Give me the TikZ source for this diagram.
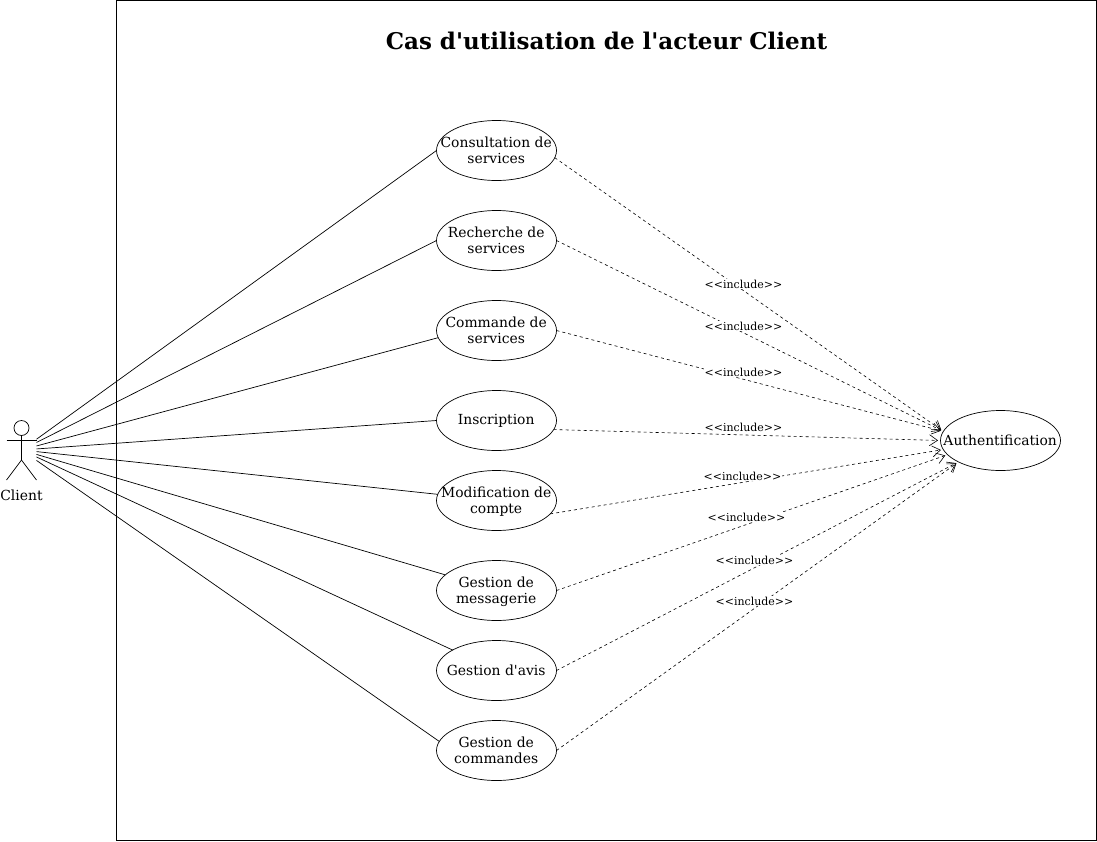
\documentclass[tikz,border=0pt]{standalone}
\usepackage{fontspec}
\newfontfamily\djs{DejaVu Serif}
\usetikzlibrary{shapes.geometric,arrows.meta}
\tikzset{
  x=1pt,y=-1pt,
  uc/.style={ellipse,draw=black,line width=0.7pt,minimum width=120pt,minimum height=60pt,inner sep=0pt,outer sep=0pt},
  uctext/.style={font=\djs\fontsize{13.9pt}{16pt}\selectfont,align=center,inner sep=0pt},
  assoc/.style={draw=black,line width=0.7pt},
  incl/.style={draw=black,line width=0.6pt,dash pattern=on 3pt off 3pt,shorten >=2.5pt,-{Straight Barb[length=8pt,width=11pt,line width=0.6pt]}},
  lbl/.style={font=\djs\fontsize{11pt}{13pt}\selectfont,fill=white,inner sep=1pt},
  actorbox/.style={rectangle,minimum width=30pt,minimum height=60pt,inner sep=0pt,outer sep=0pt},
}
\newcommand{\uc}[3]{\node[uc,label={[uctext,xshift=-0.3pt]center:{#3}}] (#1) at #2 {};}
\newcommand{\ucd}[3]{\node[uc,label={[uctext,xshift=-0.3pt,yshift=-0.8pt]center:{#3}}] (#1) at #2 {};}
\begin{document}
\begin{tikzpicture}
\useasboundingbox (0,0) rectangle (1097,841);
\node[draw=black,line width=0.7pt,minimum width=980pt,minimum height=840pt,inner sep=0pt,outer sep=0pt] (frame) at (606.5,420.5) {};
\node[font=\djs\bfseries\fontsize{23pt}{27pt}\selectfont,inner sep=0pt] (title) at (606.5,41) {Cas d'utilisation de l'acteur Client};

\node[actorbox] (actor) at (21.5,450) {};
\node[circle,draw=black,line width=0.7pt,minimum size=15pt,inner sep=0pt,outer sep=0pt] (head) at (21.5,428) {};
\draw[assoc] (head.south) -- ++(0,24.5) coordinate (hip) -- (actor.south east);
\draw[assoc] (hip) -- (actor.south west);
\draw[assoc] (6.5,440) -- (36.5,440);
\node[uctext] (clientlabel) at (21.5,495) {Client};

\uc{u1}{(496.5,150.5)}{Consultation de\\services}
\uc{u2}{(496.5,240.5)}{Recherche de\\services}
\uc{u3}{(496.5,330.5)}{Commande de\\services}
\ucd{u4}{(496.5,420.5)}{Inscription}
\ucd{u5}{(496.5,500.5)}{Modification de\\compte}
\ucd{u6}{(496.5,590.5)}{Gestion de\\messagerie}
\uc{u7}{(496.5,670.5)}{Gestion d'avis}
\uc{u8}{(496.5,750.5)}{Gestion de\\commandes}
\uc{auth}{(1000.5,440.5)}{Authentification}

\draw[assoc] (actor) -- (u1.west);
\draw[assoc] (actor) -- (u2.west);
\draw[assoc] (actor) -- (u3.187.7);
\draw[assoc] (actor) -- (u4.west);
\draw[assoc] (actor) -- (u5.174);
\draw[assoc] (actor) -- (u6.163.6);
\draw[assoc] (actor) -- (u7.155);
\draw[assoc] (actor) -- (u8.171.3);

\draw[incl] (u1.-7.6) -- (auth.171.5);
\draw[incl] (u2.east) -- (auth.171.5);
\draw[incl] (u3.east) -- (auth.171);
\draw[incl] (u4.-9.8) -- (auth.west);
\draw[incl] (u5.-14.5) -- (auth.189.5);
\draw[incl] (u6.east) -- (auth.195);
\draw[incl] (u7.east) -- (auth.207);
\draw[incl] (u8.east) -- (auth.207);

\node[lbl] (l1) at (743.5,284) {<<include>>};
\node[lbl] (l2) at (743.5,326) {<<include>>};
\node[lbl] (l3) at (743.5,372) {<<include>>};
\node[lbl] (l4) at (743.5,427.5) {<<include>>};
\node[lbl] (l5) at (742.5,476) {<<include>>};
\node[lbl] (l6) at (746.5,517) {<<include>>};
\node[lbl] (l7) at (754.5,560) {<<include>>};
\node[lbl] (l8) at (754.5,601) {<<include>>};
\end{tikzpicture}
\end{document}
